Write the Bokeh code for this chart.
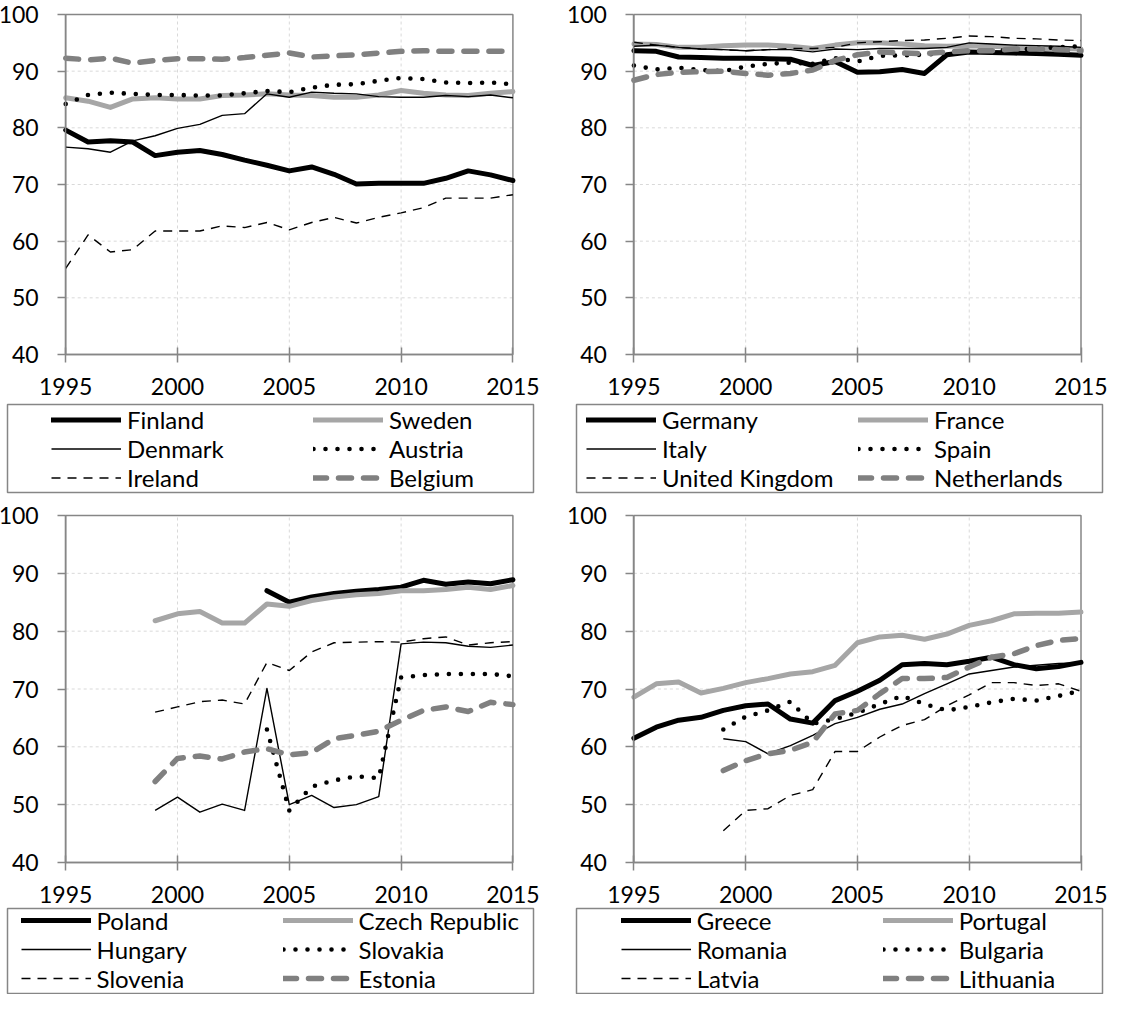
from bokeh.plotting import figure
from bokeh.models import Range1d, FixedTicker, Legend, LegendItem, LinearAxis
from bokeh.embed import file_html
from bokeh.resources import INLINE

# ---------------- data ----------------
years = list(range(1995, 2016))
x_ticks = [1995, 2000, 2005, 2010, 2015]
y_ticks = [40, 50, 60, 70, 80, 90, 100]

names_1 = ["Finland", "Sweden", "Denmark", "Austria", "Ireland", "Belgium"]
finland = [79.6, 77.5, 77.7, 77.5, 75.1, 75.7, 76.0, 75.3, 74.3, 73.4, 72.4, 73.1, 71.8, 70.1, 70.2, 70.2, 70.2, 71.1, 72.4, 71.7, 70.7]
sweden = [85.3, 84.7, 83.6, 85.1, 85.3, 85.1, 85.1, 85.7, 85.8, 86.0, 85.8, 85.7, 85.4, 85.4, 85.8, 86.6, 86.1, 85.8, 85.7, 86.1, 86.4]
denmark = [76.6, 76.3, 75.7, 77.7, 78.6, 79.9, 80.6, 82.2, 82.5, 86.0, 85.4, 86.3, 86.1, 86.0, 85.5, 85.4, 85.4, 85.7, 85.5, 85.8, 85.3]
austria = [84.2, 85.8, 86.2, 86.0, 85.8, 85.8, 85.7, 85.7, 86.1, 86.5, 86.3, 87.1, 87.6, 87.7, 88.3, 88.8, 88.6, 88.0, 87.9, 88.0, 87.7]
ireland = [55.2, 61.1, 58.1, 58.5, 61.8, 61.8, 61.8, 62.7, 62.4, 63.3, 62.0, 63.3, 64.2, 63.2, 64.2, 65.0, 65.9, 67.6, 67.6, 67.6, 68.2]
belgium = [92.3, 92.0, 92.3, 91.4, 91.9, 92.2, 92.2, 92.1, 92.4, 92.8, 93.2, 92.5, 92.7, 92.9, 93.2, 93.5, 93.6, 93.5, 93.5, 93.5, 93.5]

names_2 = ["Germany", "France", "Italy", "Spain", "United Kingdom", "Netherlands"]
germany = [93.6, 93.5, 92.5, 92.4, 92.3, 92.3, 92.2, 92.1, 91.0, 91.7, 89.8, 89.9, 90.3, 89.6, 92.9, 93.4, 93.3, 93.2, 93.1, 93.0, 92.8]
france = [94.8, 94.7, 94.2, 94.2, 94.5, 94.6, 94.6, 94.4, 94.0, 94.6, 95.0, 95.0, 94.8, 94.5, 94.4, 94.5, 94.4, 94.2, 94.0, 94.0, 93.9]
italy = [94.4, 94.6, 94.2, 93.9, 93.8, 93.6, 93.8, 93.8, 93.4, 93.9, 93.8, 94.0, 94.0, 94.0, 94.2, 95.0, 94.8, 94.6, 94.5, 94.4, 94.2]
spain = [91.0, 90.3, 90.6, 90.2, 90.0, 90.8, 91.3, 91.5, 91.3, 92.3, 91.7, 92.7, 92.8, 92.9, 93.2, 93.5, 93.6, 93.8, 94.0, 94.2, 94.4]
united_kingdom = [95.1, 94.6, 94.2, 93.9, 93.8, 93.6, 93.8, 94.0, 94.0, 94.2, 95.0, 95.2, 95.4, 95.5, 95.8, 96.2, 96.1, 95.8, 95.7, 95.5, 95.4]
netherlands = [88.4, 89.4, 89.8, 89.9, 90.0, 89.6, 89.3, 89.6, 90.2, 91.9, 92.9, 93.4, 93.2, 93.1, 93.4, 93.6, 93.6, 93.9, 93.9, 93.8, 93.6]

names_3 = ["Poland", "Czech Republic", "Hungary", "Slovakia", "Slovenia", "Estonia"]
poland = [None] * 9 + [87.0, 85.0, 85.9, 86.5, 86.9, 87.2, 87.6, 88.8, 88.1, 88.5, 88.2, 88.9]
czech_republic = [None] * 4 + [81.8, 83.0, 83.4, 81.4, 81.4, 84.7, 84.3, 85.3, 85.9, 86.3, 86.5, 87.0, 87.0, 87.2, 87.6, 87.2, 87.9]
hungary = [None] * 4 + [49.0, 51.3, 48.7, 50.1, 49.0, 70.1, 50.0, 51.6, 49.5, 50.0, 51.4, 77.8, 78.1, 78.0, 77.4, 77.2, 77.6]
slovakia = [None] * 9 + [63.0, 49.0, 53.1, 54.2, 54.9, 54.6, 72.0, 72.4, 72.6, 72.6, 72.6, 72.2]
slovenia = [None] * 4 + [66.0, 66.9, 67.8, 68.1, 67.4, 74.6, 73.2, 76.4, 78.0, 78.1, 78.2, 78.1, 78.7, 79.0, 77.6, 78.0, 78.2]
estonia = [None] * 4 + [54.0, 58.0, 58.4, 57.9, 59.1, 59.7, 58.6, 59.0, 61.4, 62.0, 62.7, 64.6, 66.3, 66.9, 66.1, 67.7, 67.3]

names_4 = ["Greece", "Portugal", "Romania", "Bulgaria", "Latvia", "Lithuania"]
greece = [61.5, 63.4, 64.6, 65.1, 66.3, 67.1, 67.4, 64.8, 64.1, 68.0, 69.6, 71.5, 74.2, 74.4, 74.2, 74.8, 75.5, 74.2, 73.5, 73.9, 74.6]
portugal = [68.6, 70.9, 71.2, 69.3, 70.1, 71.1, 71.8, 72.6, 73.0, 74.1, 78.0, 79.0, 79.3, 78.6, 79.5, 81.0, 81.8, 83.0, 83.1, 83.1, 83.3]
romania = [None] * 4 + [61.4, 60.9, 58.8, 60.2, 62.0, 64.0, 65.1, 66.5, 67.4, 69.2, 70.9, 72.6, 73.2, 73.8, 74.1, 74.4, 74.5]
bulgaria = [None] * 4 + [63.0, 65.2, 66.3, 67.8, 64.0, 64.8, 65.9, 67.4, 68.8, 67.4, 66.3, 66.9, 67.7, 68.3, 68.0, 68.8, 69.7]
latvia = [None] * 4 + [45.5, 49.0, 49.3, 51.6, 52.6, 59.2, 59.2, 61.7, 63.7, 64.7, 67.1, 69.0, 71.1, 71.1, 70.6, 70.9, 69.6]
lithuania = [None] * 4 + [55.9, 57.6, 58.8, 59.4, 60.8, 65.7, 66.3, 69.2, 71.8, 71.8, 72.0, 73.8, 75.5, 76.1, 77.5, 78.4, 78.7]

# ---------------- styles ----------------
FONT = "Lato"
AX = "#868686"
GRID = "#d9d9d9"
STYLES = [
    dict(line_color="#000000", line_width=5, line_join="round", line_cap="round"),
    dict(line_color="#a6a6a6", line_width=5, line_join="round", line_cap="round"),
    dict(line_color="#000000", line_width=1.4, line_join="round"),
    dict(line_color="#000000", line_width=4.6, line_dash="0 12", line_cap="round", line_join="round"),
    dict(line_color="#000000", line_width=1.4, line_dash="9 7", line_join="round"),
    dict(line_color="#808080", line_width=5.5, line_dash="13 12", line_cap="round", line_join="round"),
]

# page geometry (pixels of the page; the single canvas spans 8..1119 x 8..1002)
PX0, PY0 = 8, 8
CW, CH = 1111, 994
PX1, PY1 = PX0 + CW, PY0 + CH

PANELS = [
    dict(names=names_1, series=[finland, sweden, denmark, austria, ireland, belgium],
         fx=(73.2, 520.4), fy=(22, 362), box=(15, 541, 412, 500), leg_x=59, label_w=186, row_h=29),
    dict(names=names_2, series=[germany, france, italy, spain, united_kingdom, netherlands],
         fx=(641.4, 1088.5), fy=(22, 362), box=(584, 1110, 412, 500), leg_x=594, label_w=196, row_h=29),
    dict(names=names_3, series=[poland, czech_republic, hungary, slovakia, slovenia, estonia],
         fx=(73.2, 520.4), fy=(523, 870), box=(15, 541, 916, 1001), leg_x=28.6, label_w=186, row_h=28),
    dict(names=names_4, series=[greece, portugal, romania, bulgaria, latvia, lithuania],
         fx=(641.4, 1088.5), fy=(523, 870), box=(584, 1110, 916, 1001), leg_x=628.7, label_w=186, row_h=28),
]

X_MIN, X_MAX = x_ticks[0], x_ticks[-1]
Y_MIN, Y_MAX = y_ticks[0], y_ticks[-1]

p = figure(width=CW, height=CH, x_range=Range1d(PX0, PX1), y_range=Range1d(PY1, PY0),
           output_backend="svg", toolbar_location=None,
           x_axis_location=None, y_axis_location=None,
           min_border_left=0, min_border_right=0, min_border_top=0, min_border_bottom=0)
p.grid.visible = False
p.outline_line_color = None
p.background_fill_color = "white"
p.border_fill_color = "white"

extra_x, extra_y = {}, {}
for k, pan in enumerate(PANELS):
    x0, x1 = pan["fx"]
    ytop, ybot = pan["fy"]
    a = (X_MAX - X_MIN) / (x1 - x0)
    b = (Y_MAX - Y_MIN) / (ybot - ytop)
    extra_x[f"x{k}"] = Range1d(X_MIN - (x0 - PX0) * a, X_MIN + (PX1 - x0) * a)
    extra_y[f"y{k}"] = Range1d(Y_MIN - (PY1 - ybot) * b, Y_MAX + (ytop - PY0) * b)
p.extra_x_ranges = extra_x
p.extra_y_ranges = extra_y


def style_axis(ax):
    ax.axis_line_color = AX
    ax.axis_line_width = 1.5
    ax.major_tick_line_color = AX
    ax.major_tick_line_width = 1.5
    ax.minor_tick_line_color = None
    ax.major_label_text_font = FONT
    ax.major_label_text_font_size = "23px"
    ax.major_label_text_color = "#000000"


for k, pan in enumerate(PANELS):
    xn, yn = f"x{k}", f"y{k}"
    inner_x = x_ticks[1:-1]
    inner_y = y_ticks[1:-1]
    # grid lines
    p.segment(x0=inner_x, y0=[Y_MIN] * len(inner_x), x1=inner_x, y1=[Y_MAX] * len(inner_x),
              x_range_name=xn, y_range_name=yn, line_color=GRID, line_width=1, line_dash="3 3")
    p.segment(x0=[X_MIN] * len(inner_y), y0=inner_y, x1=[X_MAX] * len(inner_y), y1=inner_y,
              x_range_name=xn, y_range_name=yn, line_color=GRID, line_width=1, line_dash="3 3")
    # plot-area border
    p.quad(left=X_MIN, right=X_MAX, bottom=Y_MIN, top=Y_MAX, x_range_name=xn, y_range_name=yn,
           fill_color=None, line_color=AX, line_width=1.5)
    # series
    items = []
    for name, vals, st in zip(pan["names"], pan["series"], STYLES):
        xs = [yr for yr, v in zip(years, vals) if v is not None]
        ys = [v for v in vals if v is not None]
        r = p.line(x=xs, y=ys, x_range_name=xn, y_range_name=yn, **st)
        items.append(LegendItem(label=name, renderers=[r]))
    # axes
    xa = LinearAxis(x_range_name=xn, y_range_name=yn, fixed_location=Y_MIN, bounds=(X_MIN, X_MAX),
                    ticker=FixedTicker(ticks=x_ticks))
    style_axis(xa)
    xa.major_tick_in = 7
    xa.major_tick_out = 8
    xa.major_label_standoff = 15
    p.add_layout(xa, "below")
    ya = LinearAxis(x_range_name=xn, y_range_name=yn, fixed_location=X_MIN, bounds=(Y_MIN, Y_MAX),
                    ticker=FixedTicker(ticks=y_ticks))
    style_axis(ya)
    ya.major_tick_in = 0
    ya.major_tick_out = 8
    ya.major_label_standoff = 19
    p.add_layout(ya, "left")
    # legend box
    bx0, bx1, by0, by1 = pan["box"]
    p.quad(left=bx0, right=bx1, top=by0, bottom=by1, fill_color=None, line_color=AX, line_width=1.5)
    # legend
    rows = 3
    leg_h = rows * pan["row_h"]
    leg_bottom = by1 - ((by1 - by0) - leg_h) / 2
    leg = Legend(items=items, location=(pan["leg_x"] - PX0, PY1 - leg_bottom),
                 orientation="horizontal", ncols=2,
                 glyph_width=70, glyph_height=pan["row_h"], label_height=pan["row_h"],
                 label_width=pan["label_w"], label_standoff=6, spacing=0, padding=0, margin=0,
                 border_line_color=None, background_fill_alpha=0,
                 label_text_font=FONT, label_text_font_size="24px", label_text_color="#000000")
    p.add_layout(leg)

open("out.html", "w").write(file_html(p, INLINE))
